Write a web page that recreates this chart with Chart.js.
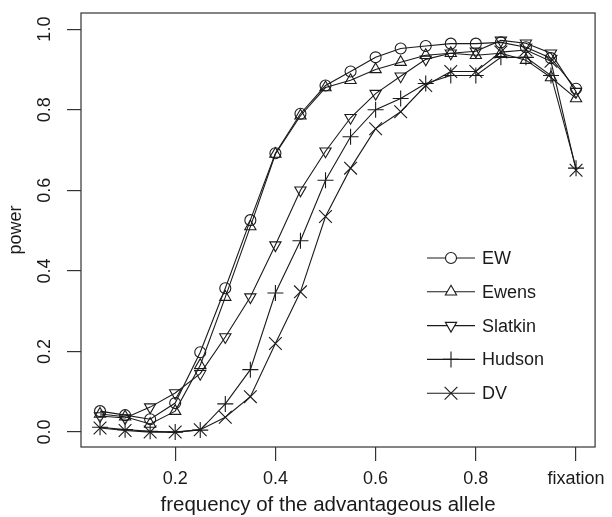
<!DOCTYPE html>
<html>
<head>
<meta charset="utf-8">
<script src="https://cdn.jsdelivr.net/npm/chart.js@4.4.0/dist/chart.umd.min.js"></script>
<style>
  html, body { margin: 0; padding: 0; background: #fff; }
  #wrap { width: 612px; height: 517px; }
</style>
</head>
<body>
<div id="wrap"><canvas id="power-chart" width="612" height="517"></canvas></div>
<script>
// frequency of the advantageous allele (1.0 = fixation)
var freqs = [0.05, 0.10, 0.15, 0.20, 0.25, 0.30, 0.35, 0.40, 0.45, 0.50,
             0.55, 0.60, 0.65, 0.70, 0.75, 0.80, 0.85, 0.90, 0.95, 1.00];

// power of each test
var ewPower      = [0.052, 0.042, 0.032, 0.072, 0.198, 0.357, 0.526, 0.692, 0.790, 0.860,
                    0.895, 0.930, 0.952, 0.958, 0.964, 0.964, 0.967, 0.955, 0.928, 0.852];
var ewensPower   = [0.045, 0.038, 0.020, 0.052, 0.166, 0.335, 0.510, 0.690, 0.785, 0.855,
                    0.873, 0.900, 0.918, 0.935, 0.940, 0.935, 0.940, 0.923, 0.880, 0.828];
var slatkinPower = [0.040, 0.035, 0.062, 0.097, 0.145, 0.236, 0.335, 0.464, 0.600, 0.697,
                    0.780, 0.840, 0.883, 0.925, 0.940, 0.945, 0.972, 0.965, 0.940, 0.845];
var hudsonPower  = [0.012, 0.006, 0.002, 0.000, 0.005, 0.070, 0.155, 0.345, 0.475, 0.625,
                    0.733, 0.800, 0.828, 0.865, 0.885, 0.885, 0.930, 0.930, 0.885, 0.655];
var dvPower      = [0.010, 0.004, 0.000, 0.000, 0.006, 0.037, 0.088, 0.220, 0.348, 0.535,
                    0.655, 0.753, 0.795, 0.860, 0.895, 0.895, 0.943, 0.948, 0.920, 0.650];

var seriesNames = ["EW", "Ewens", "Slatkin", "Hudson", "DV"];

// tick labels
var xTicks = [0.2, 0.4, 0.6, 0.8, 1.0];
var xTickLabels = ["0.2", "0.4", "0.6", "0.8", "fixation"];
var yTicks = [0, 0.2, 0.4, 0.6, 0.8, 1.0];
var yTickLabels = ["0.0", "0.2", "0.4", "0.6", "0.8", "1.0"];
var xTitle = "frequency of the advantageous allele";

var ink = "#1a1a1a";
var fontFamily = "'Liberation Sans', Arial, Helvetica, sans-serif";

// marker per series, in R's pch style
var markers = [
  { pointStyle: "circle",   radius: 5.5, rotation: 0 },
  { pointStyle: "triangle", radius: 6.5, rotation: 0 },
  { pointStyle: "triangle", radius: 6.5, rotation: 180 },
  { pointStyle: "cross",    radius: 8,   rotation: 0 },
  { pointStyle: "crossRot", radius: 9,   rotation: 0 }
];
var allValues = [ewPower, ewensPower, slatkinPower, hudsonPower, dvPower];

function toPoints(values) {
  var pts = [];
  for (var i = 0; i < freqs.length; i++) {
    pts.push({ x: freqs[i], y: values[i] });
  }
  return pts;
}

var datasets = [];
for (var s = 0; s < seriesNames.length; s++) {
  datasets.push({
    label: seriesNames[s],
    data: toPoints(allValues[s]),
    borderColor: ink,
    backgroundColor: "rgba(0,0,0,0)",
    borderWidth: 1.1,
    pointStyle: markers[s].pointStyle,
    pointRadius: markers[s].radius,
    pointRotation: markers[s].rotation,
    pointBorderColor: ink,
    pointBorderWidth: 1.1,
    pointBackgroundColor: "rgba(0,0,0,0)",
    tension: 0
  });
}

// box around plot, rotated y labels, x title and the legend (R style)
var rStyle = {
  id: "rStyle",
  afterDraw: function(chart) {
    var ctx = chart.ctx;
    var a = chart.chartArea;
    ctx.save();
    ctx.strokeStyle = "#333";
    ctx.lineWidth = 1.2;
    ctx.strokeRect(a.left, a.top, a.right - a.left, a.bottom - a.top);

    // y tick labels, rotated like R's default
    var yScale = chart.scales.y;
    ctx.fillStyle = ink;
    ctx.font = "18px " + fontFamily;
    ctx.textAlign = "center";
    ctx.textBaseline = "middle";
    for (var i = 0; i < yTicks.length; i++) {
      var py = yScale.getPixelForValue(yTicks[i]);
      ctx.save();
      ctx.translate(45, py);
      ctx.rotate(-Math.PI / 2);
      ctx.fillText(yTickLabels[i], 0, 0);
      ctx.restore();
    }

    // x axis title
    ctx.font = "20.5px " + fontFamily;
    ctx.fillText(xTitle, 328, 505);

    // legend
    ctx.font = "18px " + fontFamily;
    var lx0 = 427, lx1 = 475, ly = 258, step = 33.8;
    ctx.textAlign = "left";
    for (var k = 0; k < seriesNames.length; k++) {
      var yy = ly + k * step;
      ctx.strokeStyle = ink;
      ctx.lineWidth = 1.1;
      ctx.beginPath();
      ctx.moveTo(lx0, yy);
      ctx.lineTo(lx1, yy);
      ctx.stroke();
      ctx.fillStyle = "#fff";
      Chart.helpers.drawPoint(ctx, {
        pointStyle: markers[k].pointStyle,
        radius: markers[k].radius,
        rotation: markers[k].rotation,
        borderWidth: 1.1
      }, (lx0 + lx1) / 2, yy);
      ctx.fillStyle = ink;
      ctx.fillText(seriesNames[k], 482, yy + 1);
    }
    ctx.restore();
  }
};

new Chart(document.getElementById("power-chart"), {
  type: "line",
  data: { datasets: datasets },
  plugins: [rStyle],
  options: {
    responsive: false,
    animation: false,
    layout: { padding: { top: 13, right: 12, left: 0, bottom: 0 } },
    plugins: {
      legend: { display: false },
      tooltip: { enabled: false }
    },
    scales: {
      x: {
        type: "linear",
        min: 0.012,
        max: 1.038,
        afterBuildTicks: function(scale) {
          scale.ticks = xTicks.map(function(v) { return { value: v }; });
        },
        afterFit: function(scale) { scale.height = 70; },
        ticks: {
          color: ink,
          font: { size: 18, family: fontFamily },
          padding: 7,
          maxRotation: 0,
          callback: function(value) {
            var idx = xTicks.indexOf(value);
            return idx >= 0 ? xTickLabels[idx] : "";
          }
        },
        grid: { drawOnChartArea: false, drawTicks: true, tickLength: 14, color: "#333", lineWidth: 1.2 },
        border: { display: false },
        title: { display: false }
      },
      y: {
        type: "linear",
        min: -0.037,
        max: 1.04,
        afterBuildTicks: function(scale) {
          scale.ticks = yTicks.map(function(v) { return { value: v }; });
        },
        afterFit: function(scale) { scale.width = 81; },
        ticks: { display: false },
        grid: { drawOnChartArea: false, drawTicks: true, tickLength: 14, color: "#333", lineWidth: 1.2 },
        border: { display: false },
        title: {
          display: true,
          text: "power",
          color: ink,
          font: { size: 18, family: fontFamily },
          padding: { top: 5, bottom: 0 }
        }
      }
    }
  }
});
</script>
</body>
</html>
